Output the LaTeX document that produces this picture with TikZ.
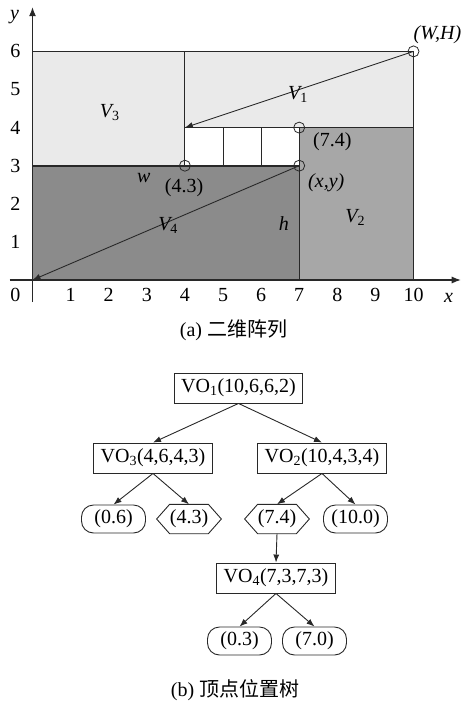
\documentclass[tikz,border=0pt]{standalone}
\usepackage{fontspec}
\setmainfont{Liberation Serif}
\newfontfamily\cjk{Noto Sans CJK SC}
\usetikzlibrary{arrows.meta}
\definecolor{lightg}{RGB}{234,234,234}
\definecolor{midg}{RGB}{167,167,167}
\definecolor{darkg}{RGB}{139,139,139}
\definecolor{ink}{RGB}{40,40,40}
\begin{document}
\begin{tikzpicture}[x=1pt,y=-1pt,
  font=\fontsize{20}{22}\selectfont,
  edge/.style={draw=ink, line width=1pt},
  thickedge/.style={draw=ink, line width=1.6pt},
  axisline/.style={draw=ink, line width=1.1pt, -{Latex[length=9pt,width=7pt]}},
  arr/.style={draw=ink, line width=0.9pt, -{Latex[length=8pt,width=6pt]}},
  mk/.style={circle, draw=ink, line width=0.8pt, minimum size=11pt, inner sep=0pt},
  tick/.style={inner sep=0pt},
  lbl/.style={inner sep=0pt, font=\fontsize{20}{22}\selectfont\itshape},
  vo/.style={draw=ink, line width=0.9pt, inner xsep=7pt, inner ysep=0pt, minimum height=30pt},
  leaf/.style={draw=ink, line width=0.9pt, rounded corners=12pt, minimum width=64pt, minimum height=28pt, inner sep=0pt},
  hexn/.style={minimum width=38pt, minimum height=29pt, inner sep=0pt},
  hexline/.style={draw=ink, line width=0.9pt},
  tarr/.style={draw=ink, line width=0.9pt, -{Latex[length=8pt,width=6pt]}}
]
\useasboundingbox (0,0) rectangle (463,702);
% ---------- (a) grid ----------
\begin{scope}[shift={(32.5,280)}, x=38.1pt, y=38.1pt]
  \fill[lightg] (0,3) rectangle (10,6);
  \fill[white] (4,3) rectangle (7,4);
  \fill[darkg] (0,0) rectangle (7,3);
  \fill[midg] (7,0) rectangle (10,4);
  \draw[edge] (0,6) -- (10,6) -- (10,0);
  \draw[edge] (4,6) -- (4,3);
  \draw[edge] (4,4) -- (10,4);
  \draw[edge] (5,3) -- (5,4) (6,3) -- (6,4);
  \draw[edge] (7,0) -- (7,4);
  \draw[thickedge] (0,3) -- (7,3);
  \draw[axisline] (-0.6,0) -- (11.24,0);
  \draw[axisline] (0,-0.58) -- (0,7.16);
  \node[tick] (t0) at (-0.45,-0.4) {0};
  \foreach \i in {1,...,10} { \node[tick] (xt\i) at (\i,-0.4) {\i}; }
  \foreach \i in {1,...,6} { \node[tick] (yt\i) at (-0.45,\i) {\i}; }
  \node[lbl] (xl) at (10.92,-0.47) {x};
  \node[lbl] (yl) at (-0.47,6.9) {y};
  \coordinate (pWH) at (10,6);
  \coordinate (p44) at (4,4);
  \coordinate (pxy) at (7,3);
  \coordinate (p00) at (0,0);
  \draw[arr] (pWH) -- (p44);
  \draw[arr] (pxy) -- (p00);
  \node[mk] (c43) at (4,3) {};
  \node[mk] (c73) at (7,3) {};
  \node[mk] (c74) at (7,4) {};
  \node[mk] (c106) at (10,6) {};
  \node[lbl] (v3) at (2.03,4.4) {V\textsubscript{\upshape 3}};
  \node[lbl] (v1) at (6.97,4.86) {V\textsubscript{\upshape 1}};
  \node[lbl] (v4) at (3.56,1.43) {V\textsubscript{\upshape 4}};
  \node[lbl] (v2) at (8.47,1.65) {V\textsubscript{\upshape 2}};
  \node[lbl] (wl) at (2.92,2.68) {w};
  \node[lbl] (hl) at (6.6,1.47) {h};
  \node[tick] (l43) at (3.98,2.42) {(4.3)};
  \node[tick] (l74) at (7.87,3.63) {(7.4)};
  \node[lbl] (lxy) at (7.71,2.55) {(x,y)};
  \node[lbl] (lWH) at (10.63,6.45) {(W,H)};
\end{scope}
\node (capa) at (233.5,330) {(a) {\cjk 二维阵列}};
% ---------- (b) tree ----------
\node[vo] (vo1) at (238.5,388) {VO\textsubscript{1}(10,6,6,2)};
\node[vo] (vo3) at (153,458) {VO\textsubscript{3}(4,6,4,3)};
\node[vo] (vo2) at (322,458) {VO\textsubscript{2}(10,4,3,4)};
\node[leaf] (l06) at (113.5,519) {(0.6)};
\node[hexn] (h43) at (189,519) {(4.3)};
\node[hexn] (h74) at (277,519) {(7.4)};
\node[leaf] (l100) at (355.5,519) {(10.0)};
\node[vo] (vo4) at (276,578) {VO\textsubscript{4}(7,3,7,3)};
\node[leaf] (l03) at (239.5,641) {(0.3)};
\node[leaf] (l70) at (314.5,641) {(7.0)};
\foreach \h in {h43,h74} {
  \draw[hexline] (\h.north west) -- (\h.north east) -- ([xshift=13pt]\h.east)
    -- (\h.south east) -- (\h.south west) -- ([xshift=-13pt]\h.west) -- cycle;
}
\draw[tarr] (vo1.south) -- (vo3.north);
\draw[tarr] (vo1.south) -- (vo2.north);
\draw[tarr] (vo3.south) -- (l06.north);
\draw[tarr] (vo3.south) -- (h43.north);
\draw[tarr] (vo2.south) -- (h74.north);
\draw[tarr] (vo2.south) -- (l100.north);
\draw[tarr] (h74.south) -- (vo4.north);
\draw[tarr] (vo4.south) -- (l03.north);
\draw[tarr] (vo4.south) -- (l70.north);
\node (capb) at (235,690) {(b) {\cjk 顶点位置树}};
\end{tikzpicture}
\end{document}
